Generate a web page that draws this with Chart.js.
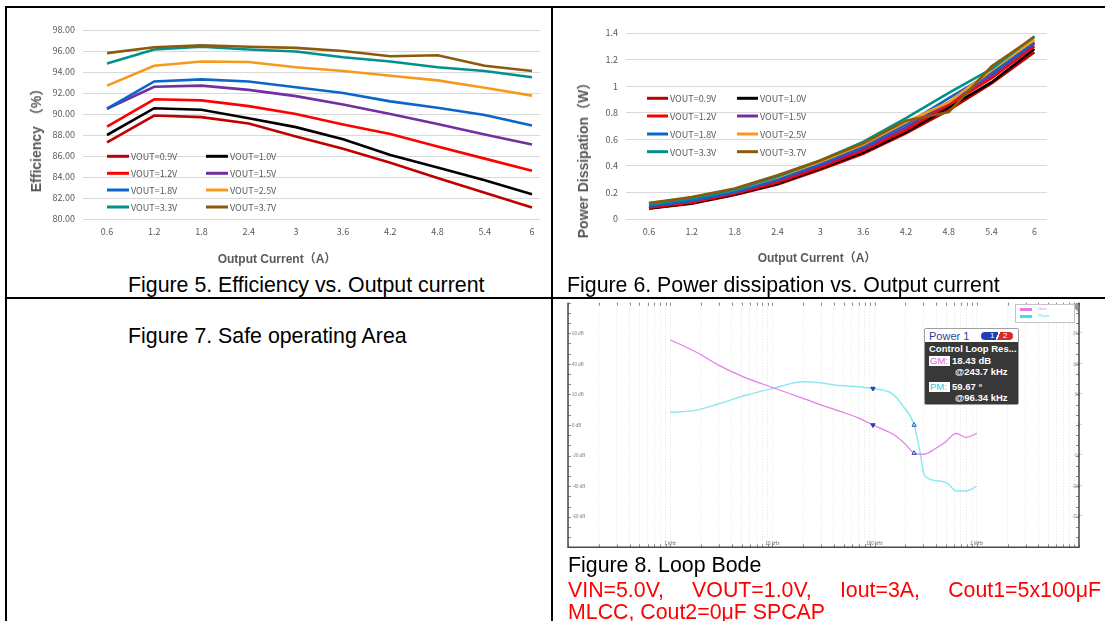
<!DOCTYPE html>
<html><head><meta charset="utf-8">
<title>Figures 5-8</title>
<script src="https://cdn.jsdelivr.net/npm/chart.js@4.4.1/dist/chart.umd.min.js"></script>
<style>
html,body{margin:0;padding:0;background:#fff;}
body{position:relative;width:1105px;height:621px;overflow:hidden;}
canvas{position:absolute;}
.rule{position:absolute;background:#000;z-index:5;}
.cap{position:absolute;font-family:"Liberation Sans",Arial,sans-serif;font-size:21.33px;line-height:23px;color:#000;white-space:nowrap;z-index:4;}
.red{color:#FF0000;}
.atitle{position:absolute;font-family:"Liberation Sans",Arial,"Noto Sans CJK SC",sans-serif;font-weight:bold;color:#595959;white-space:nowrap;line-height:1;z-index:4;}
.rot{transform:translate(-50%,-50%) rotate(-90deg);}
.hor{transform:translate(-50%,-50%);}
#infoBox{position:absolute;left:924px;top:328px;width:93px;height:75px;background:#383838;border:1px solid #a0a0a0;border-radius:2px;font-family:"Liberation Sans",Arial,sans-serif;z-index:6;}
#infoBox .hdr{position:absolute;left:0;top:0;width:93px;height:13px;background:#fff;}
#infoBox .t{position:absolute;color:#fff;font-weight:bold;font-size:9.5px;line-height:10px;white-space:nowrap;}
#infoBox .lbl{position:absolute;background:#fff;font-size:9.5px;line-height:10px;height:10px;width:20px;padding-left:1px;}
#bodeLegend{position:absolute;left:1015px;top:304px;width:58px;height:17px;border:1px solid #c4c4c4;background:#fff;z-index:6;font-family:"Liberation Sans",Arial,sans-serif;font-size:4px;}
</style></head><body>

<canvas id="c5" width="553" height="272" style="left:0;top:0"></canvas>
<canvas id="c6" width="550" height="272" style="left:555px;top:0"></canvas>
<canvas id="c8" width="524" height="258" style="left:560px;top:296px"></canvas>

<div class="rule" style="left:5px;top:6px;width:1100px;height:2px"></div>
<div class="rule" style="left:5px;top:6px;width:2px;height:615px"></div>
<div class="rule" style="left:551px;top:6px;width:2px;height:615px"></div>
<div class="rule" style="left:5px;top:297px;width:1100px;height:2px"></div>

<div class="atitle rot" style="left:36px;top:137px;font-size:14px">Efficiency （%）</div>
<div class="atitle hor" style="left:277px;top:259px;font-size:12px">Output Current（A）</div>
<div class="atitle rot" style="left:583px;top:157px;font-size:14px">Power Dissipation（W）</div>
<div class="atitle hor" style="left:817px;top:258px;font-size:12px">Output Current（A）</div>

<div class="cap" style="left:128px;top:274px">Figure 5. Efficiency vs. Output current</div>
<div class="cap" style="left:567px;top:274px">Figure 6. Power dissipation vs. Output current</div>
<div class="cap" style="left:128px;top:325px">Figure 7. Safe operating Area</div>
<div class="cap" style="left:568px;top:554px">Figure 8. Loop Bode</div>
<div class="cap red" style="left:568px;top:579px;width:533px;text-align:justify;text-align-last:justify;">VIN=5.0V, VOUT=1.0V, Iout=3A, Cout1=5x100μF</div>
<div class="cap red" style="left:568px;top:601px">MLCC, Cout2=0μF SPCAP</div>

<div id="infoBox">
  <div class="hdr">
    <span style="position:absolute;left:4px;top:1px;font-size:11px;line-height:12px;color:#2b3fa0;">Power 1</span>
    <span style="position:absolute;left:56px;top:3px;width:32px;height:8px;border-radius:4px;background:linear-gradient(110deg,#1f3fb5 0 50%,#ffffff 50% 55%,#d82a2a 55%);font-size:8px;line-height:8px;color:#fff;">
      <span style="position:absolute;left:9px;top:0">1</span><span style="position:absolute;left:22px;top:0">2</span>
    </span>
  </div>
  <div class="t" style="left:4px;top:15px">Control Loop Res...</div>
  <div class="lbl" style="left:4px;top:27px;color:#e060e0">GM:</div>
  <div class="t" id="gmVal" style="left:27px;top:27px"></div>
  <div class="t" id="gmFreqTxt" style="left:30px;top:38px"></div>
  <div class="lbl" style="left:4px;top:53px;color:#20d0e0">PM:</div>
  <div class="t" id="pmVal" style="left:27px;top:53px"></div>
  <div class="t" id="pmFreqTxt" style="left:30px;top:64px"></div>
</div>

<div id="bodeLegend">
  <div style="position:absolute;left:4px;top:3px;width:12px;height:3px;background:#e07ee6"></div>
  <div style="position:absolute;left:22px;top:1px;color:#e07ee6;line-height:6px">Gain</div>
  <div style="position:absolute;left:4px;top:10px;width:12px;height:3px;background:#2ee6ee"></div>
  <div style="position:absolute;left:22px;top:8px;color:#2ee6ee;line-height:6px">Phase</div>
</div>

<script>
// ---------- data: Figure 5 / Figure 6 ----------
const currents = [0.6, 1.2, 1.8, 2.4, 3, 3.6, 4.2, 4.8, 5.4, 6];
const seriesNames = ['VOUT=0.9V','VOUT=1.0V','VOUT=1.2V','VOUT=1.5V','VOUT=1.8V','VOUT=2.5V','VOUT=3.3V','VOUT=3.7V'];

const eff09 = [87.3, 89.85, 89.7, 89.1, 87.85, 86.7, 85.35, 83.9, 82.5, 81.1];
const eff10 = [88.0, 90.55, 90.4, 89.6, 88.75, 87.6, 86.1, 84.9, 83.7, 82.35];
const eff12 = [88.8, 91.4, 91.3, 90.75, 90.0, 89.0, 88.1, 86.9, 85.75, 84.6];
const eff15 = [90.5, 92.6, 92.7, 92.3, 91.7, 90.9, 90.0, 89.05, 88.05, 87.1];
const eff18 = [90.5, 93.1, 93.3, 93.1, 92.55, 92.0, 91.2, 90.6, 89.9, 88.9];
const eff25 = [92.7, 94.6, 95.0, 94.95, 94.45, 94.1, 93.65, 93.2, 92.5, 91.75];
const eff33 = [94.8, 96.15, 96.4, 96.15, 95.95, 95.4, 95.0, 94.45, 94.1, 93.5];
const eff37 = [95.8, 96.35, 96.55, 96.4, 96.3, 96.0, 95.5, 95.6, 94.6, 94.1];

const loss09 = [0.08, 0.115, 0.18, 0.26, 0.37, 0.49, 0.645, 0.82, 1.02, 1.255];
const loss10 = [0.08, 0.118, 0.185, 0.265, 0.38, 0.50, 0.655, 0.84, 1.03, 1.28];
const loss12 = [0.085, 0.125, 0.19, 0.275, 0.39, 0.515, 0.67, 0.86, 1.06, 1.30];
const loss15 = [0.095, 0.135, 0.20, 0.29, 0.405, 0.53, 0.69, 0.88, 1.08, 1.32];
const loss18 = [0.10, 0.14, 0.205, 0.30, 0.415, 0.545, 0.71, 0.91, 1.10, 1.33];
const loss25 = [0.12, 0.16, 0.22, 0.315, 0.43, 0.56, 0.73, 0.88, 1.12, 1.35];
const loss33 = [0.11, 0.155, 0.22, 0.32, 0.44, 0.58, 0.76, 0.95, 1.13, 1.375];
const loss37 = [0.12, 0.165, 0.23, 0.33, 0.44, 0.57, 0.74, 0.805, 1.15, 1.37];

const effSeries = [eff09, eff10, eff12, eff15, eff18, eff25, eff33, eff37];
const lossSeries = [loss09, loss10, loss12, loss15, loss18, loss25, loss33, loss37];

// ---------- data: Figure 8 (Bode) ----------
const gainFreq = [1000, 2000, 3000, 5000, 10000, 20000, 35000, 46000, 70000, 96340, 160000, 200000, 243700, 300000, 390000, 490000, 630000, 790000, 1000000];
const gainDb   = [55.8, 46, 39, 32, 24.5, 17.4, 11.5, 8.9, 4.5, 0, -7, -12.5, -18.4, -19.2, -15.6, -11.3, -5.5, -8.1, -5.5];
const phaseFreq = [1000, 1700, 3000, 5600, 10000, 20000, 29000, 46000, 70000, 96340, 147000, 191000, 243700, 278000, 306000, 405000, 507000, 635000, 790000, 1000000];
const phaseDeg  = [20.8, 23.5, 34.7, 49, 59.6, 70.8, 69.2, 64.4, 62.5, 59.67, 51.6, 30.4, 0, -44, -81.5, -91, -94.7, -108, -108, -100];
const gmDb = 18.43, gmFreqKHz = 243.7, pmDeg = 59.67, pmFreqKHz = 96.34;
const bodeXLabelFreqs = [1e3, 1e4, 1e5, 1e6];
const bodeXLabels = ['1 kHz', '10 kHz', '100 kHz', '1 MHz'];

// ---------- styles ----------
const seriesColors = ['#C00000','#000000','#FF0000','#7030A0','#0A66C8','#F59A1C','#00918A','#8C5A0C'];
Chart.defaults.font.family = "'Noto Sans CJK SC','Noto Sans',sans-serif";
Chart.defaults.animation = false;

const insideLegend = {
  id: 'insideLegend',
  afterDatasetsDraw(chart, args, o) {
    if (!o || !o.x) return;
    const ctx = chart.ctx;
    ctx.save();
    ctx.font = o.font;
    ctx.textBaseline = 'middle';
    ctx.textAlign = 'left';
    chart.data.datasets.forEach((ds, i) => {
      const x = o.x[i % 2], y = o.y[Math.floor(i / 2)];
      ctx.strokeStyle = ds.borderColor; ctx.lineWidth = 3; ctx.lineCap = 'butt';
      ctx.beginPath(); ctx.moveTo(x, y); ctx.lineTo(x + o.len, y); ctx.stroke();
      ctx.fillStyle = o.color; ctx.fillText(ds.label, x + o.len + 2, y + 0.5);
    });
    ctx.restore();
  }
};

function makeLineChart(id, series, cfg) {
  return new Chart(document.getElementById(id), {
    type: 'line',
    data: {
      datasets: series.map((vals, i) => ({
        label: seriesNames[i],
        data: currents.map((c, j) => ({ x: c, y: vals[j] })),
        borderColor: seriesColors[i],
        backgroundColor: seriesColors[i],
        borderWidth: 2.6,
        pointRadius: 0,
        tension: 0,
        order: -i
      }))
    },
    options: {
      responsive: false,
      layout: { padding: cfg.padding },
      plugins: {
        legend: { display: false },
        tooltip: { enabled: false },
        insideLegend: cfg.legend
      },
      scales: {
        x: {
          type: 'linear', min: cfg.xMin, max: cfg.xMax,
          afterBuildTicks: s => { s.ticks = currents.map(v => ({ value: v })); },
          afterFit: s => { s.height = cfg.xHeight; },
          grid: { display: false, drawTicks: false },
          border: { display: false },
          ticks: { color: '#595959', font: { size: 9 }, padding: 7, autoSkip: false, maxRotation: 0, callback: v => String(v) }
        },
        y: {
          min: cfg.yMin, max: cfg.yMax,
          afterFit: s => { s.width = cfg.yWidth; },
          grid: { color: '#D9D9D9', lineWidth: 1, drawTicks: false },
          border: { display: false },
          ticks: { stepSize: cfg.yStep, color: '#595959', font: { size: 9 }, padding: 8, callback: cfg.yFmt }
        }
      }
    },
    plugins: [insideLegend]
  });
}

makeLineChart('c5', effSeries, {
  padding: { top: 30, right: 13, left: 0, bottom: 0 },
  xMin: 0.295, xMax: 6.102, xHeight: 53, yWidth: 83,
  yMin: 80, yMax: 98, yStep: 2, yFmt: v => Number(v).toFixed(2),
  legend: { x: [107, 206], y: [156.3, 173.3, 190, 207], len: 22, font: "9px 'Noto Sans CJK SC','Noto Sans',sans-serif", color: '#595959' }
});

makeLineChart('c6', lossSeries, {
  padding: { top: 33, right: 58, left: 0, bottom: 0 },
  xMin: 0.278, xMax: 6.176, xHeight: 53, yWidth: 71,
  yMin: 0, yMax: 1.4, yStep: 0.2, yFmt: v => String(Math.round(v * 10) / 10),
  legend: { x: [92, 182], y: [98.3, 116, 134, 151.7], len: 21, font: "9px 'Noto Sans CJK SC','Noto Sans',sans-serif", color: '#595959' }
});

// ---------- Bode ----------
document.getElementById('gmVal').textContent = gmDb.toFixed(2) + ' dB';
document.getElementById('gmFreqTxt').textContent = '@' + gmFreqKHz + ' kHz';
document.getElementById('pmVal').textContent = pmDeg.toFixed(2) + ' °';
document.getElementById('pmFreqTxt').textContent = '@' + pmFreqKHz + ' kHz';

const logTicks = [];
for (let d = 100; d < 1e7; d *= 10) for (let m = 1; m <= 9; m++) logTicks.push(d * m);
logTicks.push(1e7);

const bodeDecor = {
  id: 'bodeDecor',
  afterDraw(chart) {
    const { ctx, chartArea: a, scales } = chart;
    const xs = scales.x, yd = scales.yDb;
    ctx.save();
    ctx.strokeStyle = '#8a8a8a'; ctx.lineWidth = 1;
    ctx.beginPath();
    logTicks.forEach(v => {
      const px = Math.round(xs.getPixelForValue(v)) + 0.5;
      ctx.moveTo(px, a.top); ctx.lineTo(px, a.top + 3);
      ctx.moveTo(px, a.bottom); ctx.lineTo(px, a.bottom - 3);
    });
    for (let k = -12; k <= 12; k++) {
      const py = Math.round(yd.getPixelForValue(k * 20 / 3)) + 0.5;
      ctx.moveTo(a.left, py); ctx.lineTo(a.left + 3, py);
      ctx.moveTo(a.right, py); ctx.lineTo(a.right - 3, py);
    }
    ctx.stroke();
    ctx.font = "4.5px 'Liberation Sans',sans-serif";
    ctx.fillStyle = '#666'; ctx.textAlign = 'center'; ctx.textBaseline = 'bottom';
    bodeXLabelFreqs.forEach((f, i) => ctx.fillText(bodeXLabels[i], xs.getPixelForValue(f), a.bottom - 1));
    ctx.strokeStyle = '#4a4a4a'; ctx.lineWidth = 1.5;
    ctx.beginPath();
    ctx.moveTo(a.left, a.top); ctx.lineTo(a.left, a.bottom); ctx.lineTo(a.right, a.bottom); ctx.lineTo(a.right, a.top);
    ctx.stroke();
    ctx.fillStyle = '#9a9a9a';
    ctx.beginPath(); ctx.moveTo(a.right - 9, a.top + 1); ctx.lineTo(a.right - 1, a.top + 1); ctx.lineTo(a.right - 1, a.top + 9); ctx.closePath(); ctx.fill();
    ctx.restore();
  }
};

new Chart(document.getElementById('c8'), {
  type: 'line',
  data: {
    datasets: [
      { label: 'Gain', data: gainFreq.map((f, i) => ({ x: f, y: gainDb[i] })), yAxisID: 'yDb',
        borderColor: '#E07EE6', borderWidth: 1.2, pointRadius: 0, cubicInterpolationMode: 'monotone', order: 2 },
      { label: 'Phase', data: phaseFreq.map((f, i) => ({ x: f, y: phaseDeg[i] })), yAxisID: 'yDeg',
        borderColor: '#8CE8F0', borderWidth: 1.5, pointRadius: 0, cubicInterpolationMode: 'monotone', order: 3 },
      { label: 'PM markers gain', data: [{ x: pmFreqKHz * 1000, y: 0 }], yAxisID: 'yDb', showLine: false,
        pointStyle: 'triangle', rotation: 180, pointRadius: 2.5, backgroundColor: '#2040b0', borderColor: '#2040b0', borderWidth: 1, order: 0 },
      { label: 'PM markers phase', data: [{ x: pmFreqKHz * 1000, y: pmDeg }], yAxisID: 'yDeg', showLine: false,
        pointStyle: 'triangle', rotation: 180, pointRadius: 2.5, backgroundColor: '#2040b0', borderColor: '#2040b0', borderWidth: 1, order: 0 },
      { label: 'GM markers gain', data: [{ x: gmFreqKHz * 1000, y: -gmDb }], yAxisID: 'yDb', showLine: false,
        pointStyle: 'triangle', pointRadius: 2.5, backgroundColor: 'rgba(255,255,255,0)', borderColor: '#3050c0', borderWidth: 1, order: 0 },
      { label: 'GM markers phase', data: [{ x: gmFreqKHz * 1000, y: 0 }], yAxisID: 'yDeg', showLine: false,
        pointStyle: 'triangle', pointRadius: 2.5, backgroundColor: 'rgba(255,255,255,0)', borderColor: '#3050c0', borderWidth: 1, order: 0 }
    ]
  },
  options: {
    responsive: false,
    layout: { padding: { left: 8, top: 4, right: 5, bottom: 5 } },
    plugins: { legend: { display: false }, tooltip: { enabled: false } },
    scales: {
      x: {
        type: 'logarithmic', min: 100, max: 1e7,
        afterBuildTicks: s => { s.ticks = logTicks.map(v => ({ value: v })); },
        afterFit: s => { s.height = 0; },
        ticks: { display: false },
        grid: { color: '#e4e4e4', lineWidth: 1, drawTicks: false },
        border: { display: false, dash: [1, 2] }
      },
      yDb: {
        type: 'linear', position: 'left', min: -80, max: 80,
        afterFit: s => { s.width = 0; },
        grid: { display: false },
        border: { display: false },
        ticks: { stepSize: 20, mirror: true, padding: 4, autoSkip: false, color: '#777', font: { size: 4.5 },
                 callback: v => (Math.abs(v) < 80 ? v + ' dB' : '') }
      },
      yDeg: {
        type: 'linear', position: 'right', min: -200, max: 200,
        afterFit: s => { s.width = 0; },
        grid: { display: false },
        border: { display: false },
        ticks: { stepSize: 50, mirror: true, padding: 3, autoSkip: false, color: '#777', font: { size: 4.5 },
                 callback: v => (Math.abs(v) < 200 ? v + '°' : '') }
      }
    }
  },
  plugins: [bodeDecor]
});
</script>
</body></html>
